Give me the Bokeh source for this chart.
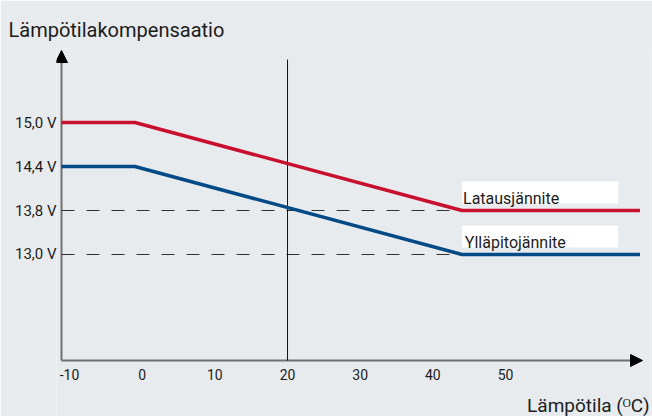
from bokeh.plotting import figure
from bokeh.models import Range1d, FixedTicker, Arrow, NormalHead, Title, ColumnDataSource
from bokeh.embed import file_html
from bokeh.resources import INLINE
from bokeh.core.properties import value

# ---- data ----
title_text = "Lämpötilakompensaatio"
x_label = "Lämpötila (ᴼC)"
levels = ["13,0 V", "13,8 V", "14,4 V", "15,0 V"]          # y tick labels (schematic, evenly spaced)
x_ticks = [-10, 0, 10, 20, 30, 40, 50]                     # °C
x_tick_labels = ["-10", "0", "10", "20", "30", "40", "50"]
temps = [-11.1, -1, 44, 68.5]                              # °C breakpoints
charge_v = ["15,0 V", "15,0 V", "13,8 V", "13,8 V"]        # Latausjännite
float_v = ["14,4 V", "14,4 V", "13,0 V", "13,0 V"]         # Ylläpitojännite
series_names = ["Latausjännite", "Ylläpitojännite"]
ref_temp = 20
dash_levels = ["13,8 V", "13,0 V"]

RED = "#c8102e"
BLUE = "#014a86"
BG = "#e8ebee"
AXIS = "#707070"
TXT = "#1c1c1c"
FONT = "Roboto"

def ypos(v):
    return levels.index(v)

X0, X1 = -11.79, 69.95       # frame x extent
Y0, Y1 = -3.682, 4.682       # frame y extent
AX_X = temps[0]              # where the y axis sits
AX_Y = -2.409                # where the x axis sits
TIP_Y = 4.636
TIP_X = 68.85

p = figure(width=652, height=416, output_backend="svg", toolbar_location=None,
           x_range=Range1d(X0, X1), y_range=Range1d(Y0, Y1),
           min_border_left=56, min_border_right=2, min_border_top=48, min_border_bottom=0)
p.background_fill_color = BG
p.border_fill_color = BG
p.outline_line_color = None
p.grid.visible = False

# y axis: labels only (axis line drawn as glyph below)
p.xaxis.visible = False
p.yaxis.ticker = FixedTicker(ticks=list(range(len(levels))))
p.yaxis.major_label_overrides = {i: lab for i, lab in enumerate(levels)}
ya = p.yaxis[0]
ya.axis_line_color = None
ya.major_tick_line_color = None
ya.minor_tick_line_color = None
ya.major_tick_in = 0
ya.major_tick_out = 0
ya.major_label_text_font = FONT
ya.major_label_text_color = TXT
ya.major_label_standoff = 0
ya.major_label_text_font_size = "15px"

# x tick labels under the axis line
p.text(x=x_ticks, y=[AX_Y] * len(x_ticks), text=x_tick_labels, y_offset=9,
       text_font=value(FONT), text_font_size="14px", text_color=TXT,
       text_align="center", text_baseline="top")
# x axis title at the right end
p.text(x=[X1], y=[AX_Y], text=[x_label], y_offset=45, x_offset=-1,
       text_font=value(FONT), text_font_size="19px", text_color=TXT,
       text_align="right", text_baseline="alphabetic")

# axis lines
p.segment(x0=[AX_X, AX_X], y0=[AX_Y, AX_Y], x1=[AX_X, 68.0], y1=[4.4, AX_Y],
          line_color=AXIS, line_width=2)

# dashed guide lines
xb = temps[2]
dash_src = ColumnDataSource(dict(x0=[AX_X] * len(dash_levels), x1=[xb] * len(dash_levels),
                                 y=[ypos(v) for v in dash_levels]))
p.segment(x0="x0", y0="y", x1="x1", y1="y", source=dash_src, line_color="#333333",
          line_width=1.2, line_dash="13 12")

# reference vertical line at 20 °C
p.segment(x0=[ref_temp], y0=[AX_Y], x1=[ref_temp], y1=[4.43],
          line_color="#111111", line_width=1)

# series
p.line(temps, [ypos(v) for v in charge_v], line_color=RED, line_width=3.5)
p.line(temps, [ypos(v) for v in float_v], line_color=BLUE, line_width=3.5)

# label boxes
for vals in (charge_v, float_v):
    y = ypos(vals[-1])
    p.quad(left=[temps[2]], right=[65.5], bottom=[y + 0.16], top=[y + 0.66],
           fill_color="white", line_color=None)
p.text(x=[temps[2] + 0.15, temps[2] + 0.4], y=[ypos(charge_v[-1]) + 0.27, ypos(float_v[-1]) + 0.27],
       text=series_names, text_font=value(FONT), text_font_size="16px", text_color=TXT,
       text_baseline="alphabetic", text_align="left")

# axis arrows
p.add_layout(Arrow(end=NormalHead(size=12, fill_color="black", line_color="black"),
                   x_start=AX_X, y_start=4.0, x_end=AX_X, y_end=TIP_Y, line_color=None))
p.add_layout(Arrow(end=NormalHead(size=12, fill_color="black", line_color="black"),
                   x_start=62, y_start=AX_Y, x_end=TIP_X, y_end=AX_Y, line_color=None))

# chart title
p.add_layout(Title(text=title_text, align="left", offset=-48, vertical_align="top", standoff=10,
                   text_font=FONT, text_font_size="20px", text_font_style="normal",
                   text_color=TXT), "above")

open("out.html", "w").write(file_html(p, INLINE))
